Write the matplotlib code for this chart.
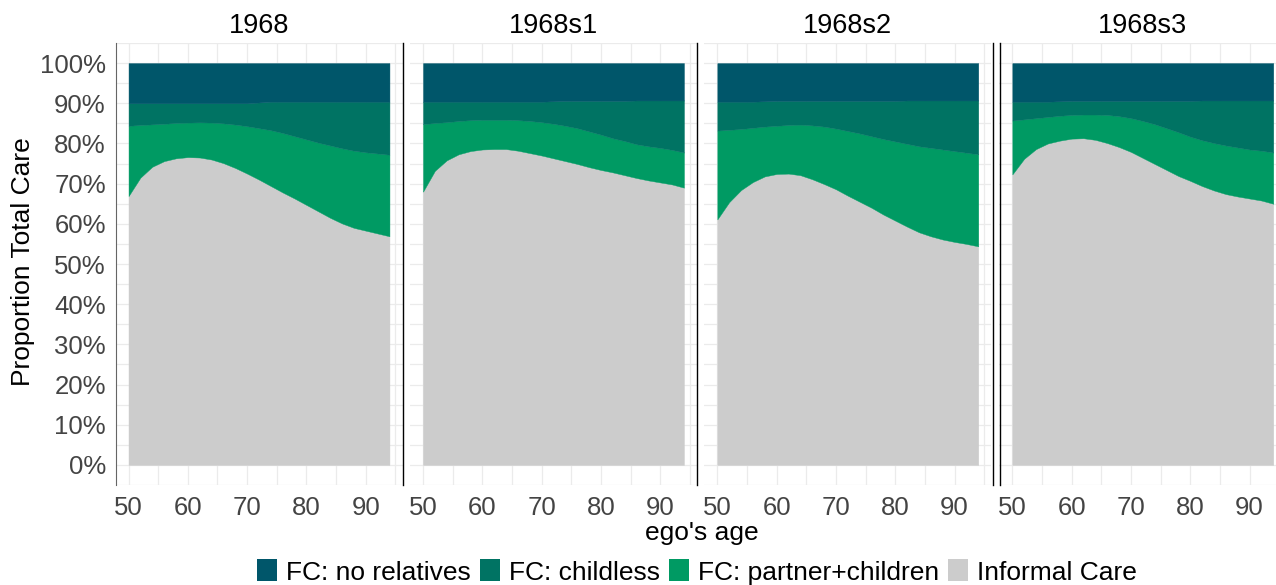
import numpy as np
import matplotlib.pyplot as plt
from matplotlib.patches import Patch
from matplotlib.lines import Line2D

plt.rcParams['font.family'] = ['Liberation Sans', 'DejaVu Sans']

# ego's age (every 2 years)
ages = [50, 52, 54, 56, 58, 60, 62, 64, 66, 68, 70, 72,
        74, 76, 78, 80, 82, 84, 86, 88, 90, 92, 94]

panels = ['1968', '1968s1', '1968s2', '1968s3']

# upper edge of each band, in % of total care (stacked from the bottom)
informal_1968 = [66.9, 71.5, 74.2, 75.6, 76.3, 76.6, 76.5, 76.0, 75.1, 73.9, 72.5, 71.0,
                 69.4, 67.8, 66.3, 64.7, 63.1, 61.5, 60.1, 59.0, 58.3, 57.6, 56.9]
partner_1968 = [84.4, 84.6, 84.75, 84.9, 85.1, 85.2, 85.25, 85.2, 85.0, 84.7, 84.3, 83.8,
                83.3, 82.6, 81.8, 81.0, 80.2, 79.5, 78.8, 78.2, 77.8, 77.5, 77.2]
childless_1968 = [90.0, 90.0, 90.0, 90.0, 90.0, 90.0, 90.0, 90.0, 90.0, 90.0, 90.0, 90.2,
                  90.4, 90.4, 90.4, 90.4, 90.4, 90.4, 90.4, 90.4, 90.4, 90.4, 90.4]

informal_s1 = [68.0, 73.2, 75.8, 77.3, 78.1, 78.5, 78.6, 78.6, 78.2, 77.6, 77.0, 76.3,
               75.6, 74.9, 74.1, 73.4, 72.8, 72.1, 71.4, 70.8, 70.3, 69.8, 69.0]
partner_s1 = [84.8, 85.1, 85.3, 85.6, 85.8, 85.9, 85.9, 85.9, 85.8, 85.6, 85.3, 84.9,
              84.4, 83.8, 83.0, 82.2, 81.3, 80.6, 79.8, 79.3, 78.9, 78.4, 77.75]
childless_s1 = [90.4, 90.4, 90.4, 90.4, 90.4, 90.4, 90.4, 90.4, 90.4, 90.4, 90.4, 90.5,
                90.6, 90.6, 90.6, 90.6, 90.6, 90.6, 90.7, 90.7, 90.7, 90.7, 90.7]

informal_s2 = [61.1, 65.4, 68.4, 70.4, 71.8, 72.4, 72.5, 72.1, 71.1, 69.9, 68.6, 67.0,
               65.5, 64.0, 62.3, 60.8, 59.3, 57.9, 56.9, 56.1, 55.5, 55.0, 54.4]
partner_s2 = [83.2, 83.4, 83.6, 83.9, 84.2, 84.4, 84.6, 84.7, 84.5, 84.2, 83.7, 83.1,
              82.5, 81.8, 81.1, 80.5, 79.9, 79.3, 78.9, 78.5, 78.1, 77.7, 77.3]
childless_s2 = [90.4, 90.4, 90.4, 90.4, 90.5, 90.6, 90.6, 90.6, 90.6, 90.6, 90.6, 90.6,
                90.6, 90.6, 90.6, 90.6, 90.7, 90.7, 90.7, 90.7, 90.7, 90.7, 90.7]

informal_s3 = [72.3, 76.2, 78.6, 80.0, 80.7, 81.2, 81.3, 80.9, 80.1, 79.1, 77.9, 76.4,
               74.9, 73.4, 71.9, 70.7, 69.4, 68.3, 67.4, 66.8, 66.3, 65.8, 65.0]
partner_s3 = [85.7, 86.0, 86.3, 86.6, 86.9, 87.1, 87.2, 87.2, 87.1, 86.8, 86.3, 85.6,
              84.8, 83.8, 82.8, 81.7, 80.8, 80.1, 79.5, 79.0, 78.5, 78.2, 77.75]
childless_s3 = [90.4, 90.4, 90.4, 90.4, 90.5, 90.6, 90.6, 90.6, 90.6, 90.6, 90.6, 90.6,
                90.6, 90.6, 90.6, 90.6, 90.7, 90.7, 90.7, 90.7, 90.7, 90.7, 90.7]

informal = [informal_1968, informal_s1, informal_s2, informal_s3]
partner = [partner_1968, partner_s1, partner_s2, partner_s3]
childless = [childless_1968, childless_s1, childless_s2, childless_s3]

series = ['FC: no relatives', 'FC: childless', 'FC: partner+children', 'Informal Care']
colors = ['#00566A', '#007363', '#009A63', '#CCCCCC']

W, H = 1276, 585
fig = plt.figure(figsize=(W / 100, H / 100), dpi=100)

lefts = [115.5, 410, 704.3, 999.3]
for i, name in enumerate(panels):
    ax = fig.add_axes([lefts[i] / W, 100 / H, 287 / W, 442 / H])
    x = np.array(ages)
    lo = np.zeros(len(ages))
    bands = [informal[i], partner[i], childless[i], [100] * len(ages)]
    cols = colors[::-1]
    for b, c in zip(bands, cols):
        hi = np.array(b, dtype=float)
        ax.fill_between(x, lo, hi, color=c, lw=0.3, edgecolor=c)
        lo = hi

    ax.set_xlim(47.8, 96.2)
    ax.set_ylim(-5, 105)
    ax.set_xticks([50, 60, 70, 80, 90])
    ax.set_xticks([55, 65, 75, 85, 95], minor=True)
    ax.set_yticks(np.arange(0, 101, 10))
    ax.set_yticks(np.arange(-5, 106, 10), minor=True)
    ax.grid(which='both', color='#EBEBEB', lw=0.9)
    ax.set_axisbelow(True)
    for s in ax.spines.values():
        s.set_visible(False)
    ax.tick_params(which='both', length=0, labelsize=18.5, labelcolor='#444444')
    ax.tick_params(axis='x', pad=8)
    ax.tick_params(axis='y', pad=7)
    if i == 0:
        ax.set_yticklabels([f'{v}%' for v in range(0, 101, 10)])
        ax.spines['left'].set_visible(True)
        ax.spines['left'].set_color('#666666')
    else:
        ax.set_yticklabels([])
    ax.set_title(name, fontsize=19.5, pad=7)

# black separators between the panels
for xp in [403, 697, 993, 1000]:
    fig.add_artist(Line2D([xp / W, xp / W], [100 / H, 542 / H], color='black', lw=1))

fig.text(702 / W, 1 - 533 / H, "ego's age", ha='center', va='center', fontsize=19)
fig.text(23 / W, 1 - 262 / H, 'Proportion Total Care', rotation=90,
         ha='center', va='center', fontsize=19)

handles = [Patch(facecolor=c, edgecolor='none') for c in colors]
fig.legend(handles, series, loc='center', bbox_to_anchor=(697 / W, 1 - 572 / H),
           ncol=4, frameon=False, fontsize=19, handlelength=0.75, handleheight=0.9,
           handletextpad=0.35, columnspacing=0.35, borderaxespad=0, borderpad=0)

fig.savefig('out.png', dpi=100)
